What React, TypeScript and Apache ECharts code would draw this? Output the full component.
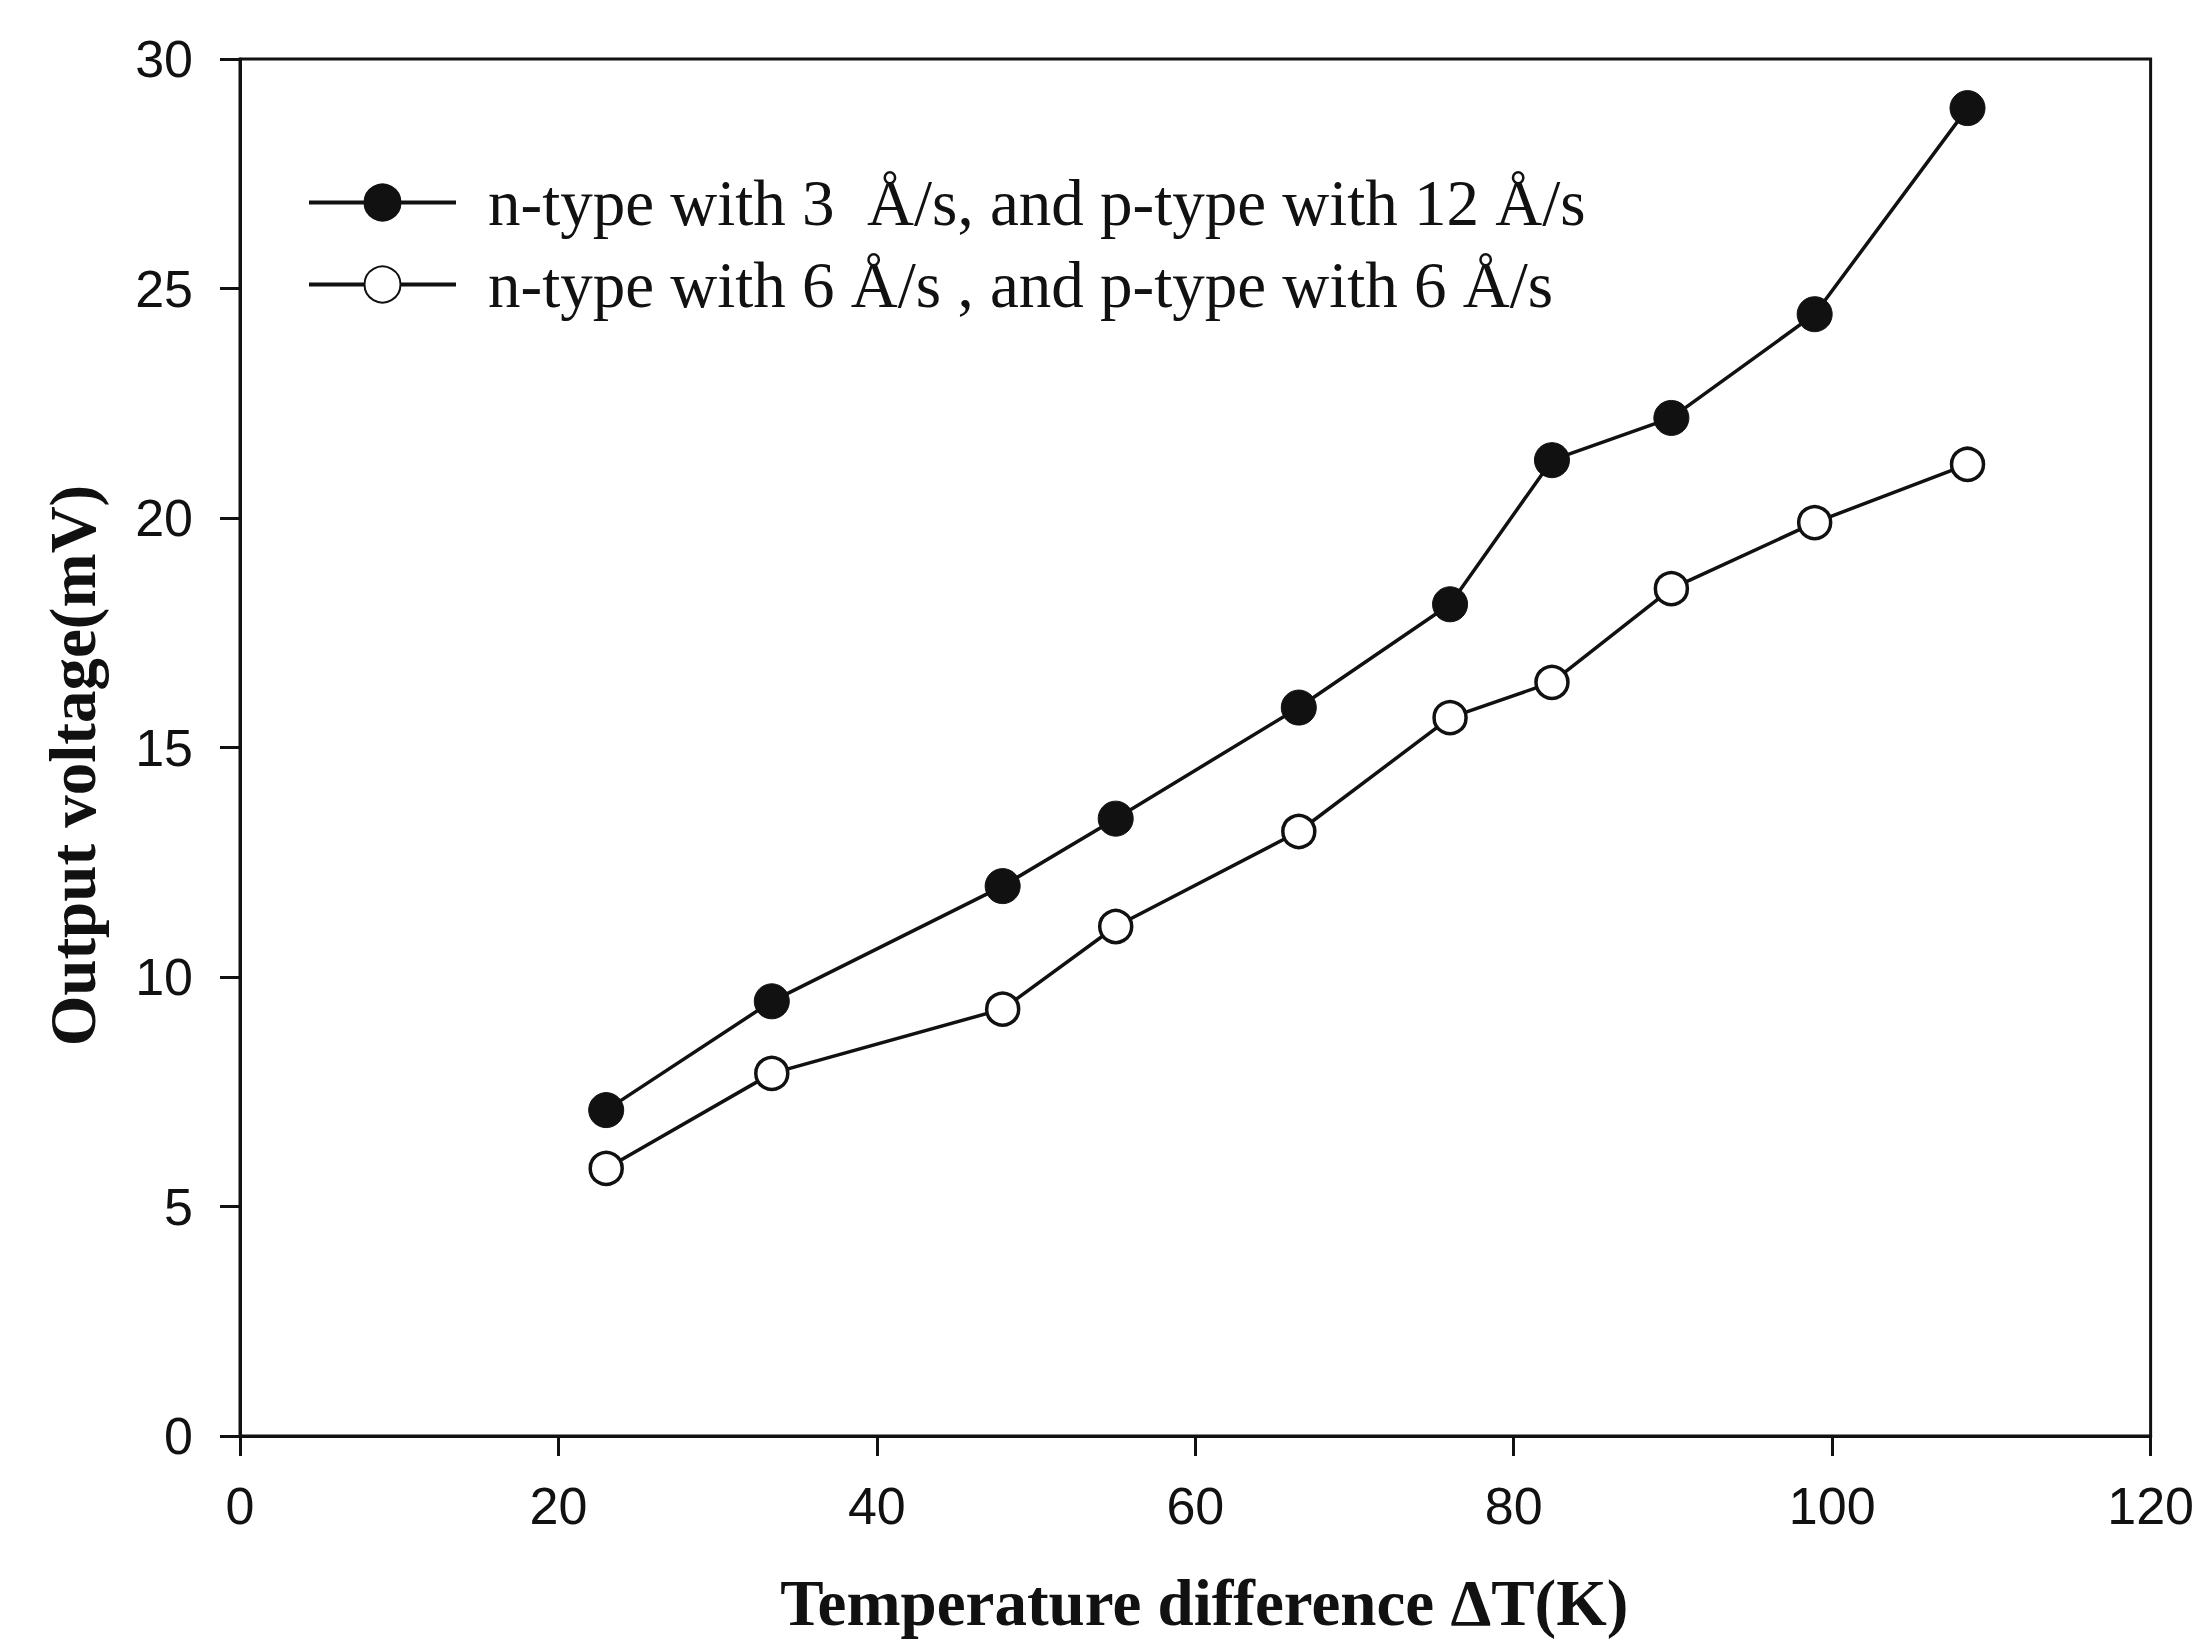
import React, { useEffect, useRef } from "react";
import * as echarts from "echarts";

const seriesNames = [
  "n-type with 3 \u00a0Å/s, and p-type with 12 Å/s",
  "n-type with 6 Å/s , and p-type with 6 Å/s",
];
const deltaT = [23.0, 33.4, 47.9, 55.0, 66.5, 76.0, 82.4, 89.9, 98.9, 108.5];
const voltageA = [7.1, 9.47, 11.98, 13.45, 15.87, 18.12, 21.26, 22.18, 24.44, 28.93];
const voltageB = [5.83, 7.9, 9.3, 11.1, 13.17, 15.65, 16.42, 18.46, 19.9, 21.17];
const xTicks = [0, 20, 40, 60, 80, 100, 120];
const yTicks = [0, 5, 10, 15, 20, 25, 30];

export default function App() {
  const ref = useRef<HTMLDivElement>(null);
  useEffect(() => {
    if (!ref.current) return;
    const chart = echarts.init(ref.current, undefined, { renderer: "svg" });
    const black = "#111";
    const sans = "'Liberation Sans', Arial, sans-serif";
    const serif = "'Liberation Serif', 'Times New Roman', serif";
    chart.setOption({
      animation: false,
      backgroundColor: "#fff",
      grid: {
        left: 240,
        top: 59,
        right: 46,
        bottom: 205,
        show: true,
        borderColor: black,
        borderWidth: 3,
        containLabel: false,
      },
      legend: {
        orient: "vertical",
        left: 302,
        top: 165,
        itemWidth: 147,
        itemHeight: 45,
        itemGap: 17,
        data: seriesNames,
        lineStyle: { width: 4 },
        textStyle: {
          fontFamily: serif,
          fontSize: 65,
          color: black,
          lineHeight: 45,
          padding: [0, 0, 0, 27],
        },
      },
      xAxis: {
        type: "value",
        min: xTicks[0],
        max: xTicks[xTicks.length - 1],
        interval: 20,
        name: "Temperature difference ΔT(K)",
        nameLocation: "middle",
        nameGap: 134,
        nameTextStyle: { fontFamily: serif, fontSize: 65, fontWeight: "bold", color: black, padding: [0, 0, 0, 18] },
        axisLine: { show: true, lineStyle: { color: black, width: 3 } },
        axisTick: { show: true, inside: false, length: 20, lineStyle: { color: black, width: 3 } },
        axisLabel: { fontFamily: sans, fontSize: 52, color: black, margin: 44 },
        splitLine: { show: false },
      },
      yAxis: {
        type: "value",
        min: yTicks[0],
        max: yTicks[yTicks.length - 1],
        interval: 5,
        name: "Output voltage(mV)",
        nameLocation: "middle",
        nameGap: 135,
        nameTextStyle: { fontFamily: serif, fontSize: 65, fontWeight: "bold", color: black, padding: [0, 36, 0, 0] },
        axisLine: { show: true, lineStyle: { color: black, width: 3 } },
        axisTick: { show: true, inside: false, length: 20, lineStyle: { color: black, width: 3 } },
        axisLabel: { fontFamily: sans, fontSize: 52, color: black, margin: 47 },
        splitLine: { show: false },
      },
      series: [
        {
          name: seriesNames[0],
          type: "line",
          data: deltaT.map((x, i) => [x, voltageA[i]]),
          symbol: "circle",
          symbolSize: 35,
          lineStyle: { color: black, width: 3.5 },
          itemStyle: { color: black, borderColor: black, borderWidth: 1 },
          z: 3,
        },
        {
          name: seriesNames[1],
          type: "line",
          data: deltaT.map((x, i) => [x, voltageB[i]]),
          symbol: "circle",
          symbolSize: 32,
          lineStyle: { color: black, width: 3.5 },
          itemStyle: { color: "#fff", borderColor: black, borderWidth: 3.5 },
          z: 3,
        },
      ],
    });
    return () => chart.dispose();
  }, []);
  return (
    <div
      ref={ref}
      style={{ position: "absolute", left: 0, top: 0, width: 2197, height: 1641, background: "#fff" }}
    />
  );
}
